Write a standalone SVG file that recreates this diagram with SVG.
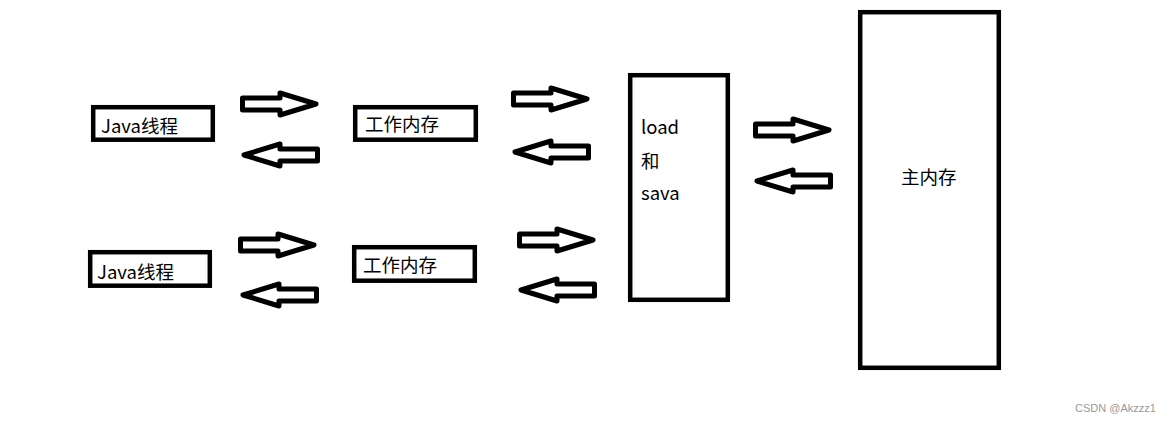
<svg xmlns="http://www.w3.org/2000/svg" xmlns:xlink="http://www.w3.org/1999/xlink" width="1169" height="421" viewBox="0 0 1169 421">
<style>
.box{fill:#fff;stroke:#000;stroke-width:4.5}
.lbl{font-family:"Noto Sans CJK SC","Noto Sans",sans-serif;font-size:18.5px;fill:#000}
.arr{fill:#fff;stroke:#000;stroke-width:5;stroke-linejoin:round}
.wm{font-family:"Liberation Sans",Arial,sans-serif;font-size:11px;fill:#999}
</style>
<defs>
<path id="ar" class="arr" d="M2.5,-6 L40,-6 L40,-11 L76,0 L40,11 L40,6 L2.5,6 Z"/>
</defs>
<rect width="1169" height="421" fill="#fff"/>
<g id="java1"><rect class="box" x="93.2" y="107.2" width="119.6" height="32.5"/><text class="lbl" x="101" y="133">Java线程</text></g>
<g id="mem1"><rect class="box" x="355.2" y="107.2" width="120.6" height="32.5"/><text class="lbl" x="365" y="131">工作内存</text></g>
<g id="java2"><rect class="box" x="90.2" y="252.2" width="119.6" height="33.5"/><text class="lbl" x="97" y="279">Java线程</text></g>
<g id="mem2"><rect class="box" x="354.2" y="247.2" width="120.6" height="33.5"/><text class="lbl" x="363" y="272">工作内存</text></g>
<g id="loadsave"><rect class="box" x="630.2" y="75.2" width="97.6" height="224.6"/><text class="lbl" x="641" y="134">load</text><text class="lbl" x="641" y="168">和</text><text class="lbl" x="641" y="200">sava</text></g>
<g id="mainmem"><rect class="box" x="860.2" y="12.2" width="138.6" height="355.6"/><text class="lbl" x="901" y="184">主内存</text></g>
<g id="connectors">
<use xlink:href="#ar" transform="translate(240,104)"/>
<use xlink:href="#ar" transform="translate(320,155) scale(-1,1)"/>
<use xlink:href="#ar" transform="translate(511,99)"/>
<use xlink:href="#ar" transform="translate(591,152) scale(-1,1)"/>
<use xlink:href="#ar" transform="translate(238,245)"/>
<use xlink:href="#ar" transform="translate(319,295) scale(-1,1)"/>
<use xlink:href="#ar" transform="translate(517,240)"/>
<use xlink:href="#ar" transform="translate(597,290) scale(-1,1)"/>
<use xlink:href="#ar" transform="translate(753,130)"/>
<use xlink:href="#ar" transform="translate(833,181) scale(-1,1)"/>
</g>
<text class="wm" x="1075" y="412">CSDN @Akzzz1</text>
</svg>
